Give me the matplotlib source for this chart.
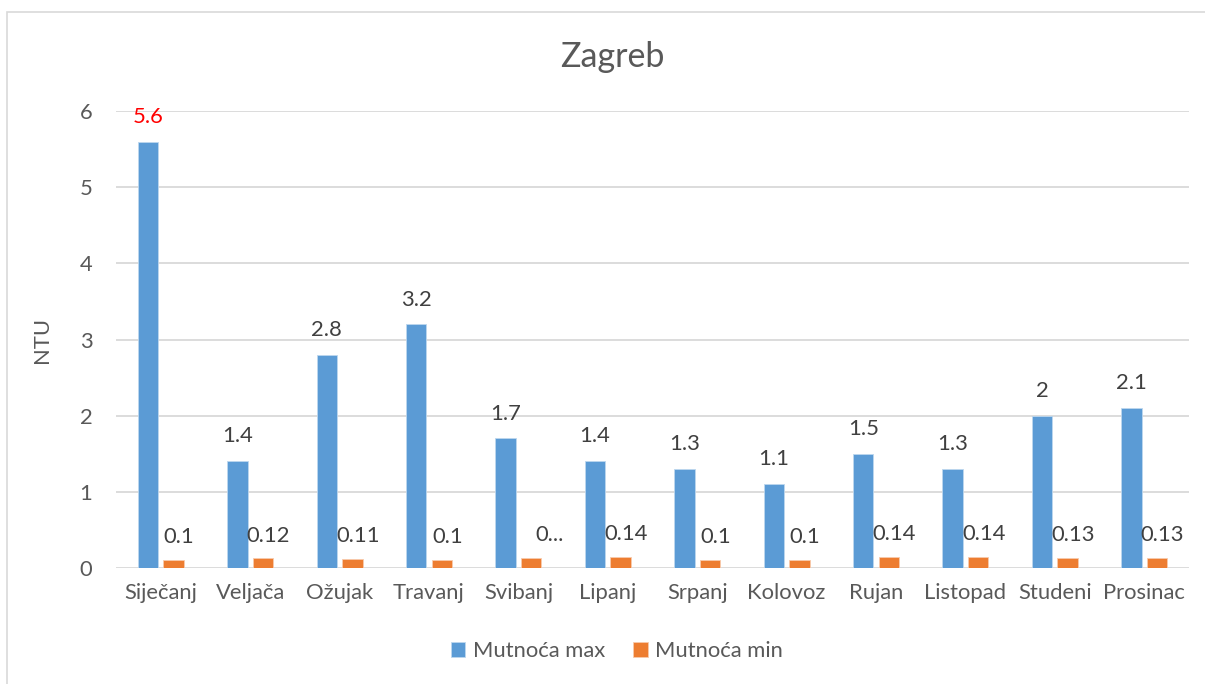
import matplotlib.pyplot as plt
from matplotlib.patches import Rectangle
import numpy as np

# Data
months = ['Siječanj', 'Veljača', 'Ožujak', 'Travanj', 'Svibanj', 'Lipanj',
          'Srpanj', 'Kolovoz', 'Rujan', 'Listopad', 'Studeni', 'Prosinac']
mut_max = [5.6, 1.4, 2.8, 3.2, 1.7, 1.4, 1.3, 1.1, 1.5, 1.3, 2.0, 2.1]
mut_min = [0.1, 0.12, 0.11, 0.1, 0.13, 0.14, 0.1, 0.1, 0.14, 0.14, 0.13, 0.13]
max_labels = ['5.6', '1.4', '2.8', '3.2', '1.7', '1.4', '1.3', '1.1', '1.5', '1.3', '2', '2.1']
min_labels = ['0.1', '0.12', '0.11', '0.1', '0...', '0.14', '0.1', '0.1', '0.14', '0.14', '0.13', '0.13']

plt.rcParams['font.family'] = ['Lato', 'DejaVu Sans']
txt = '#595959'
blue = '#5B9BD5'
orange = '#ED7D31'
grid = '#D9D9D9'
fs = 15.8

fig = plt.figure(figsize=(12.05, 6.84), dpi=100)
ax = fig.add_axes([0.0963, 0.1703, 0.8904, 0.6667])

# outer chart frame
fig.patches.append(Rectangle((7 / 1205, -0.1), 1.2, 1 - 12 / 684 + 0.1,
                             transform=fig.transFigure, fill=False,
                             edgecolor=grid, linewidth=1.2))

x = np.arange(len(months))
w = 0.229
off = 0.143
ax.bar(x - off, mut_max, w, color=blue, edgecolor='#BDD7EE', linewidth=0.6,
       label='Mutnoća max', zorder=3)
ax.bar(x + off, mut_min, w, color=orange, edgecolor='#F8CBAD', linewidth=0.6,
       label='Mutnoća min', zorder=3)

# data labels
for i in range(len(months)):
    c = 'red' if i == 0 else '#404040'
    ax.annotate(max_labels[i], (x[i] - off, mut_max[i]), xytext=(0, 13.5),
                textcoords='offset points', ha='center', va='baseline',
                fontsize=fs, color=c)
    dx = 13 if min_labels[i].endswith('...') else 4
    ax.annotate(min_labels[i], (x[i] + off, mut_min[i]), xytext=(dx, 12),
                textcoords='offset points', ha='center', va='baseline',
                fontsize=fs, color='#404040')

ax.set_xlim(-0.5, 11.5)
ax.set_ylim(0, 6)
ax.set_yticks(range(7))
ax.set_xticks(x)
ax.set_xticklabels(months)
ax.grid(axis='y', color=grid, linewidth=1.3, zorder=0)
for s in ax.spines.values():
    s.set_visible(False)
ax.tick_params(axis='both', length=0, labelsize=fs, colors=txt)
ax.tick_params(axis='y', pad=17)
ax.tick_params(axis='x', pad=11)
ax.set_ylabel('NTU', fontsize=fs, color=txt, labelpad=20)

fig.text(0.508, 0.917, 'Zagreb', ha='center', va='center', fontsize=24.5, color=txt)

leg = fig.legend(loc='center', bbox_to_anchor=(0.512, 0.048), ncol=2, frameon=False,
                 fontsize=fs, handlelength=0.65, handleheight=0.65,
                 handletextpad=0.35, columnspacing=1.3)
for t in leg.get_texts():
    t.set_color(txt)

fig.savefig('out.png', dpi=100)
